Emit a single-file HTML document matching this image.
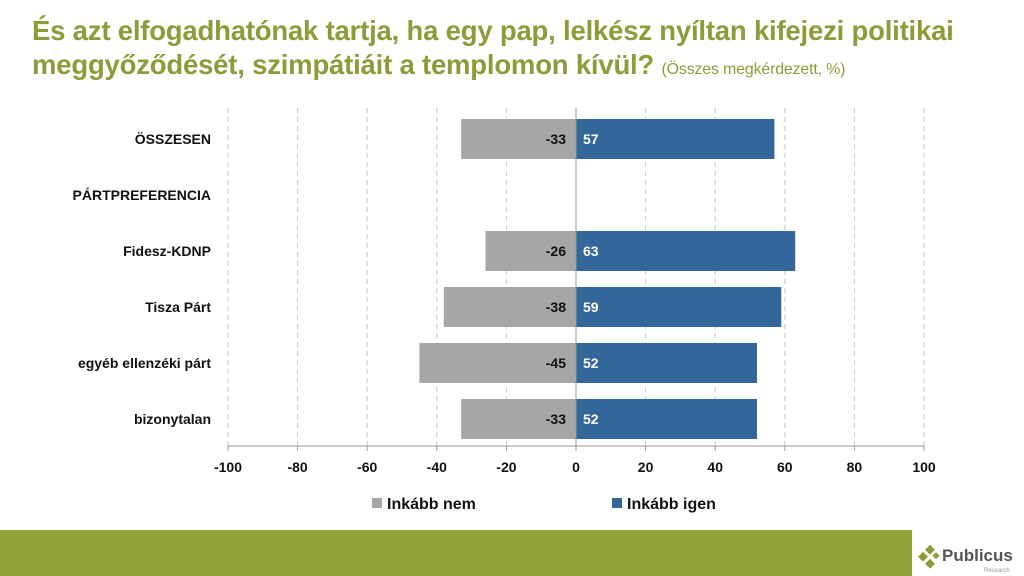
<!DOCTYPE html>
<html><head><meta charset="utf-8"><style>
body{margin:0;width:1024px;height:576px;background:#fff;overflow:hidden;font-family:"Liberation Sans",sans-serif}
.t{position:absolute;left:32px;top:14px;color:#8c9c38;font-weight:bold;font-size:27.5px;line-height:34px;letter-spacing:-0.2px}
.t span{font-weight:normal;font-size:16px}
</style></head><body>
<div class="t">És azt elfogadhatónak tartja, ha egy pap, lelkész nyíltan kifejezi politikai<br>meggyőződését, szimpátiáit a templomon kívül? <span>(Összes megkérdezett, %)</span></div>
<svg width="1024" height="576" style="position:absolute;left:0;top:0" font-family="Liberation Sans, sans-serif">
<g stroke="#c8c8c8" stroke-dasharray="5,4" stroke-width="1">
<line x1="228" y1="108" x2="228" y2="446"/><line x1="297.6" y1="108" x2="297.6" y2="446"/><line x1="367.2" y1="108" x2="367.2" y2="446"/><line x1="436.8" y1="108" x2="436.8" y2="446"/><line x1="506.4" y1="108" x2="506.4" y2="446"/><line x1="645.6" y1="108" x2="645.6" y2="446"/><line x1="715.2" y1="108" x2="715.2" y2="446"/><line x1="784.8" y1="108" x2="784.8" y2="446"/><line x1="854.4" y1="108" x2="854.4" y2="446"/><line x1="924" y1="108" x2="924" y2="446"/>
</g>
<g fill="#a6a6a6">
<rect x="461.2" y="119" width="114.8" height="40"/>
<rect x="485.5" y="231" width="90.5" height="40"/>
<rect x="443.8" y="287" width="132.2" height="40"/>
<rect x="419.4" y="343" width="156.6" height="40"/>
<rect x="461.2" y="399" width="114.8" height="40"/>
</g>
<g fill="#336699">
<rect x="576" y="119" width="198.4" height="40"/>
<rect x="576" y="231" width="219.2" height="40"/>
<rect x="576" y="287" width="205.3" height="40"/>
<rect x="576" y="343" width="181" height="40"/>
<rect x="576" y="399" width="181" height="40"/>
</g>
<g stroke="#999" stroke-width="1"><line x1="576" y1="108" x2="576" y2="446"/><line x1="228" y1="446" x2="924" y2="446"/>
<line x1="228" y1="446" x2="228" y2="451"/><line x1="297.6" y1="446" x2="297.6" y2="451"/><line x1="367.2" y1="446" x2="367.2" y2="451"/><line x1="436.8" y1="446" x2="436.8" y2="451"/><line x1="506.4" y1="446" x2="506.4" y2="451"/><line x1="576" y1="446" x2="576" y2="451"/><line x1="645.6" y1="446" x2="645.6" y2="451"/><line x1="715.2" y1="446" x2="715.2" y2="451"/><line x1="784.8" y1="446" x2="784.8" y2="451"/><line x1="854.4" y1="446" x2="854.4" y2="451"/><line x1="924" y1="446" x2="924" y2="451"/></g>
<g font-size="14" font-weight="bold" fill="#111" text-anchor="end">
<text x="566" y="144">-33</text><text x="566" y="256">-26</text><text x="566" y="312">-38</text><text x="566" y="368">-45</text><text x="566" y="424">-33</text>
<text x="211" y="144">ÖSSZESEN</text><text x="211" y="200">PÁRTPREFERENCIA</text><text x="211" y="256">Fidesz-KDNP</text><text x="211" y="312">Tisza Párt</text><text x="211" y="368">egyéb ellenzéki párt</text><text x="211" y="424">bizonytalan</text>
</g>
<g font-size="14" font-weight="bold" fill="#fff">
<text x="583" y="144">57</text><text x="583" y="256">63</text><text x="583" y="312">59</text><text x="583" y="368">52</text><text x="583" y="424">52</text>
</g>
<g font-size="14" font-weight="bold" fill="#111" text-anchor="middle">
<text x="228" y="472">-100</text><text x="297.6" y="472">-80</text><text x="367.2" y="472">-60</text><text x="436.8" y="472">-40</text><text x="506.4" y="472">-20</text><text x="576" y="472">0</text><text x="645.6" y="472">20</text><text x="715.2" y="472">40</text><text x="784.8" y="472">60</text><text x="854.4" y="472">80</text><text x="924" y="472">100</text>
</g>
<rect x="372" y="498" width="10" height="10" fill="#a6a6a6"/><text x="387" y="509" font-size="16" font-weight="bold" fill="#111">Inkább nem</text>
<rect x="612" y="498" width="10" height="10" fill="#336699"/><text x="627" y="509" font-size="16" font-weight="bold" fill="#111">Inkább igen</text>
<rect x="0" y="530" width="912" height="46" fill="#93a13a"/>
<g fill="#8c9c38"><rect x="927" y="546" width="7" height="7" transform="rotate(45 930 549)"/><rect x="920" y="553" width="7" height="7" transform="rotate(45 923 556)"/><rect x="927" y="560" width="7" height="7" transform="rotate(45 930 563)"/><rect x="934" y="553" width="5" height="5" transform="rotate(45 936 555)"/></g>
<text x="942" y="561" font-size="17" font-weight="bold" fill="#555">Publicus</text>
<text x="984" y="572" font-size="6" fill="#999">Research</text>
</svg>
</body></html>
